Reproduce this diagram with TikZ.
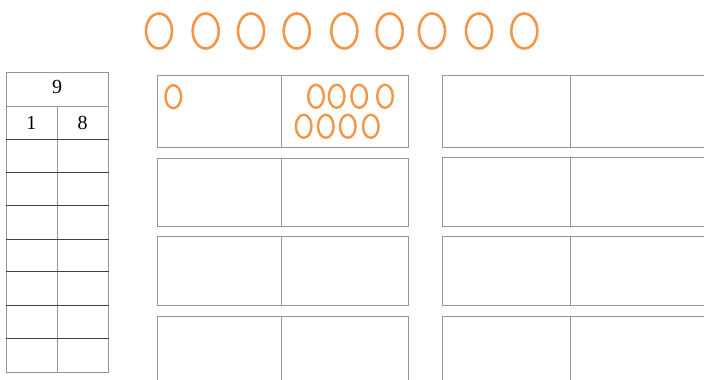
\documentclass[tikz,border=0pt]{standalone}
\usepackage{fontspec}
\setmainfont{Liberation Serif}
\definecolor{ovalorange}{RGB}{244,150,72}
\definecolor{boxgray}{RGB}{150,150,150}
\tikzset{
  oval/.style={draw=ovalorange, line width=2.6pt},
  smalloval/.style={draw=ovalorange, line width=2.4pt},
  grayline/.style={draw=boxgray, line width=0.8pt},
  darkline/.style={draw=black!75, line width=0.9pt},
  digit/.style={font=\fontsize{20}{23}\selectfont, inner sep=0pt}
}
\begin{document}
\begin{tikzpicture}[x=1pt,y=-1pt]
\useasboundingbox (0,0) rectangle (704,380);
% top ovals
\foreach \cx in {159,205.7,251,296.7,344.3,389.7,432,479,524.3}
  \draw[oval] (\cx,31) ellipse [x radius=13, y radius=17.5];
% left table
\draw[grayline] (6,72) rectangle (108.5,372.5);
\draw[grayline] (6,106) -- (108.5,106);
\draw[grayline] (57,106) -- (57,372.5);
\foreach \yy in {139.3,172.7,205.3,239,271.7,305,338.7}
  \draw[darkline] (6,\yy) -- (108.5,\yy);
\node[digit] (nine) at (57,87) {9};
\node[digit] (one) at (31.5,122.5) {1};
\node[digit] (eight) at (82.5,122.5) {8};
% middle column boxes
\foreach \t/\b in {75.3/147.3,158.3/226,236.7/305.3,316.3/400}{
  \draw[grayline] (157.3,\t) rectangle (408,\b);
  \draw[grayline] (281,\t) -- (281,\b);
}
% right column boxes
\foreach \t/\b in {75.3/147.3,157.7/226,236.7/305.3,316/400}{
  \draw[grayline] (442.7,\t) rectangle (720,\b);
  \draw[grayline] (570.3,\t) -- (570.3,\b);
}
% small ovals
\draw[smalloval] (173.3,96.7) ellipse [x radius=7.8, y radius=11.5];
\foreach \cx in {316,336.7,359.2,385}
  \draw[smalloval] (\cx,96.3) ellipse [x radius=7.8, y radius=11.5];
\foreach \cx in {303.7,325.8,347.8,370.8}
  \draw[smalloval] (\cx,126.3) ellipse [x radius=7.8, y radius=11.5];
\end{tikzpicture}
\end{document}
